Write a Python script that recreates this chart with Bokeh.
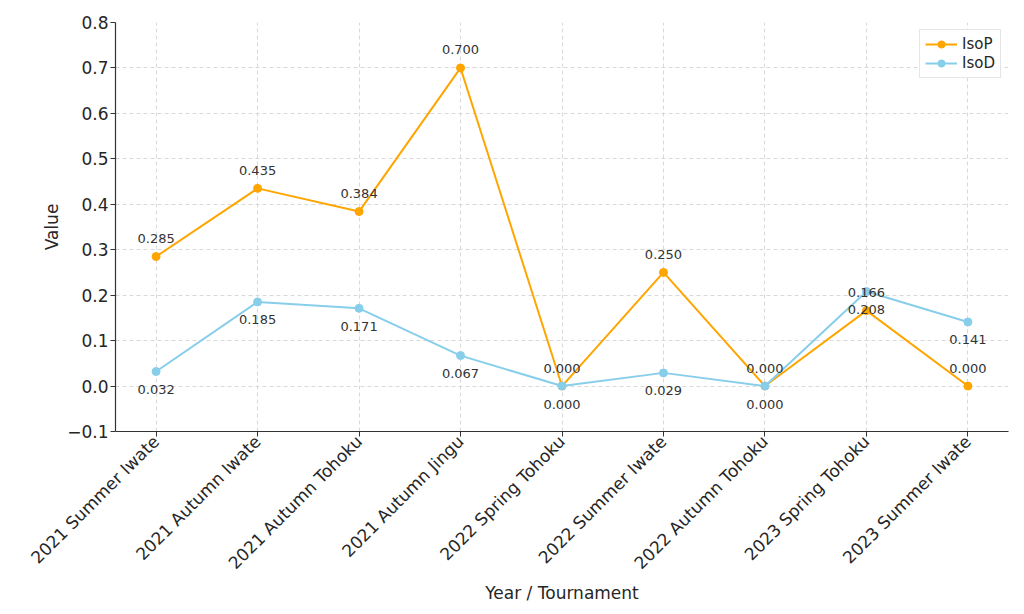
import math
from bokeh.plotting import figure
from bokeh.models import FixedTicker, ColumnDataSource
from bokeh.embed import file_html
from bokeh.resources import INLINE

categories = ["2021 Summer Iwate", "2021 Autumn Iwate", "2021 Autumn Tohoku",
              "2021 Autumn Jingu", "2022 Spring Tohoku", "2022 Summer Iwate",
              "2022 Autumn Tohoku", "2023 Spring Tohoku", "2023 Summer Iwate"]
isop = [0.285, 0.435, 0.384, 0.700, 0.000, 0.250, 0.000, 0.166, 0.000]
isod = [0.032, 0.185, 0.171, 0.067, 0.000, 0.029, 0.000, 0.208, 0.141]
y_ticks = [-0.1, 0.0, 0.1, 0.2, 0.3, 0.4, 0.5, 0.6, 0.7, 0.8]

xs = list(range(len(categories)))

FONT = "DejaVu Sans"
TXT = "#262626"

p = figure(width=1024, height=614, output_backend="svg", toolbar_location=None,
           x_range=(-0.4, 8.4), y_range=(-0.1, 0.8),
           frame_width=893, frame_height=409,
           min_border_left=115, min_border_right=16, min_border_top=22, min_border_bottom=183)
p.outline_line_color = None
p.background_fill_color = "white"
p.border_fill_color = "white"

src_p = ColumnDataSource(dict(x=xs, y=isop, t=["%.3f" % v for v in isop]))
src_d = ColumnDataSource(dict(x=xs, y=isod, t=["%.3f" % v for v in isod]))

p.line("x", "y", source=src_p, color="orange", line_width=2, legend_label="IsoP")
p.scatter("x", "y", source=src_p, color="orange", size=8, legend_label="IsoP")
p.line("x", "y", source=src_d, color="skyblue", line_width=2, legend_label="IsoD")
p.scatter("x", "y", source=src_d, color="skyblue", size=8, legend_label="IsoD")

p.text("x", "y", text="t", source=src_p, text_align="center", text_baseline="middle",
       y_offset=-18, text_font_size="13px", text_color="#333333", text_font={"value": FONT})
p.text("x", "y", text="t", source=src_d, text_align="center", text_baseline="middle",
       y_offset=18, text_font_size="13px", text_color="#333333", text_font={"value": FONT})

p.xaxis.ticker = FixedTicker(ticks=xs)
p.xaxis.major_label_overrides = {i: c for i, c in zip(xs, categories)}
p.xaxis.major_label_orientation = math.pi / 4
p.yaxis.ticker = FixedTicker(ticks=y_ticks)
p.yaxis.major_label_overrides = {v: ("%.1f" % v).replace("-", "\u2212") for v in y_ticks}

for ax in (p.xaxis, p.yaxis):
    ax.axis_line_color = "#333333"
    ax.axis_line_width = 1.2
    ax.major_tick_line_color = "#333333"
    ax.major_tick_out = 5
    ax.major_tick_in = 0
    ax.minor_tick_line_color = None
    ax.major_label_text_font = FONT
    ax.major_label_text_font_size = "17px"
    ax.major_label_text_color = TXT
    ax.major_label_standoff = 2
    ax.axis_label_text_font = FONT
    ax.axis_label_text_font_size = "17px"
    ax.axis_label_text_font_style = "normal"
    ax.axis_label_text_color = TXT

p.xaxis.axis_label = "Year / Tournament"
p.yaxis.axis_label = "Value"
p.xaxis.axis_label_standoff = 0
p.yaxis.axis_label_standoff = 2

p.grid.grid_line_color = "#d0d0d0"
p.grid.grid_line_dash = "4 3"
p.grid.grid_line_alpha = 0.8

lg = p.legend[0]
lg.location = "top_right"
lg.margin = 7
lg.label_text_font = FONT
lg.label_text_font_size = "15px"
lg.label_text_color = TXT
lg.border_line_color = "#cccccc"
lg.background_fill_alpha = 0.9
lg.padding = 5
lg.spacing = 1
lg.glyph_width = 32
lg.glyph_height = 18

open("out.html", "w").write(file_html(p, INLINE))
